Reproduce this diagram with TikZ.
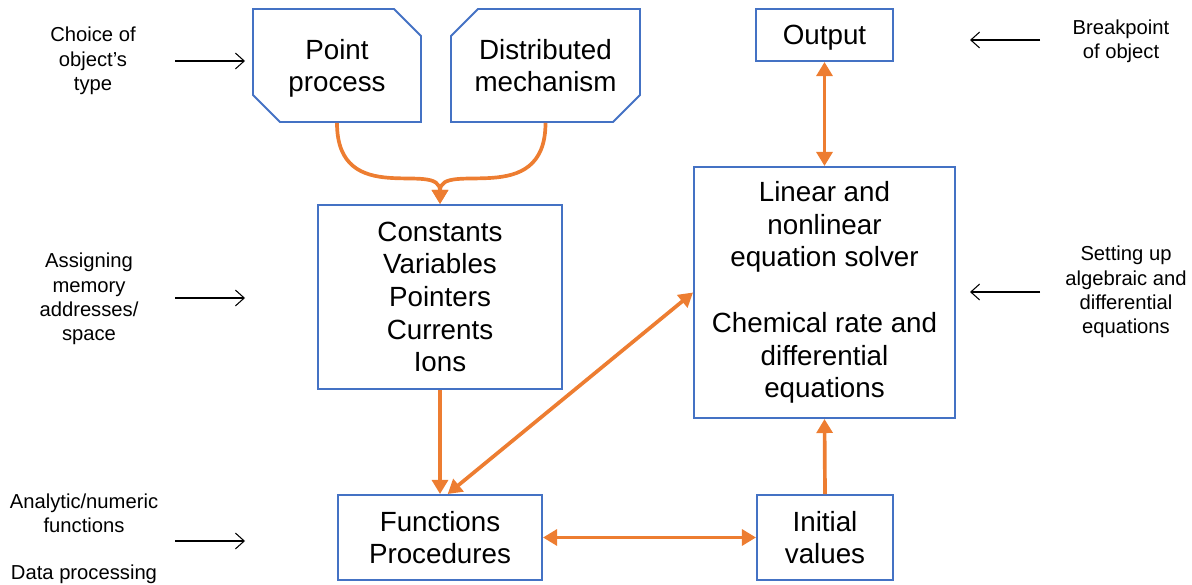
\documentclass[tikz,border=0pt]{standalone}
\usepackage{fontspec}
\setmainfont{Liberation Sans}
\usetikzlibrary{arrows.meta,shapes.misc}
\definecolor{boxblue}{HTML}{4472C4}
\definecolor{flowor}{HTML}{ED7D31}
\begin{document}
\begin{tikzpicture}[
        block/.style={rectangle, draw=boxblue, line width=1.1pt, align=center, inner sep=0pt, font=\fontsize{15.8}{18.6}\selectfont},
        notch/.style={chamfered rectangle, chamfered rectangle xsep=0.27cm, chamfered rectangle ysep=0.27cm, draw=boxblue, line width=1.1pt, align=center, inner sep=0pt, font=\fontsize{15.8}{18.6}\selectfont},
        hint/.style={align=center, font=\fontsize{11.5}{13.9}\selectfont},
        flow/.style={-{Triangle[length=8pt,width=9pt]}, draw=flowor, line width=2.1pt},
        dflow/.style={{Triangle[length=8pt,width=9pt]}-{Triangle[length=8pt,width=9pt]}, draw=flowor, line width=2.1pt},
        cue/.style={-{Straight Barb[length=5pt,width=9pt]}, line width=0.6pt}
    ]
        \useasboundingbox (0,0) rectangle (23.84,-11.7);

        \node[notch, chamfered rectangle corners={north east, south west}, minimum width=3.36cm, minimum height=2.26cm, text depth=0pt] (point) at (6.74,-1.31) {Point\\process};
        \node[notch, chamfered rectangle corners={north west, south east}, minimum width=3.78cm, minimum height=2.26cm, text depth=0pt] (distr) at (10.91,-1.31) {Distributed\\mechanism};
        \node[block, minimum width=2.74cm, minimum height=1.04cm, text depth=0pt] (output) at (16.49,-0.70) {Output};
        \node[block, minimum width=5.22cm, minimum height=5.02cm] (solver) at (16.49,-5.85) {Linear and\\nonlinear\\equation solver\\[18.6pt]Chemical rate and\\differential\\equations};
        \node[block, minimum width=4.88cm, minimum height=3.68cm] (consts) at (8.80,-5.94) {Constants\\Variables\\Pointers\\Currents\\Ions};
        \node[block, minimum width=4.08cm, minimum height=1.70cm] (funcs) at (8.80,-10.75) {Functions\\Procedures};
        \node[block, minimum width=2.72cm, minimum height=1.70cm] (init) at (16.50,-10.75) {Initial\\values};

        % side notes
        \node[hint] (choice) at (1.86,-1.22) {Choice of\\object’s\\type};
        \node[hint] (assign) at (1.78,-5.98) {Assigning\\memory\\addresses/\\space};
        \node[hint] (analytic) at (1.68,-10.26) {Analytic/numeric\\functions};
        \node[hint] (dataproc) at (1.68,-11.48) {Data processing};
        \node[hint] (breakpt) at (22.42,-0.82) {Breakpoint\\of object};
        \node[hint] (setup) at (22.52,-5.84) {Setting up\\algebraic and\\differential\\equations};

        \coordinate (c1a) at (3.5,-1.22);  \coordinate (c1b) at (4.9,-1.22);
        \coordinate (c2a) at (3.5,-5.96);  \coordinate (c2b) at (4.9,-5.96);
        \coordinate (c3a) at (3.5,-10.82); \coordinate (c3b) at (4.9,-10.82);
        \coordinate (c4a) at (20.8,-0.80); \coordinate (c4b) at (19.4,-0.80);
        \coordinate (c5a) at (20.8,-5.84); \coordinate (c5b) at (19.4,-5.84);

        \draw[cue] (c1a) -- (c1b);
        \draw[cue] (c2a) -- (c2b);
        \draw[cue] (c3a) -- (c3b);
        \draw[cue] (c4a) -- (c4b);
        \draw[cue] (c5a) -- (c5b);

        \draw[flow] (point.south) .. controls +(0,-1.75) and +(0,0.9) .. (consts.north);
        \draw[flow] (distr.south) .. controls +(0,-1.75) and +(0,0.9) .. (consts.north);
        \draw[flow] (consts.south) -- (funcs.north);
        \draw[dflow] (funcs.80) -- (solver.west);
        \draw[dflow] (funcs.east) -- (init.west);
        \draw[flow] (init.north) -- (solver.south);
        \draw[dflow] (output.south) -- (solver.north);
    \end{tikzpicture}
\end{document}
